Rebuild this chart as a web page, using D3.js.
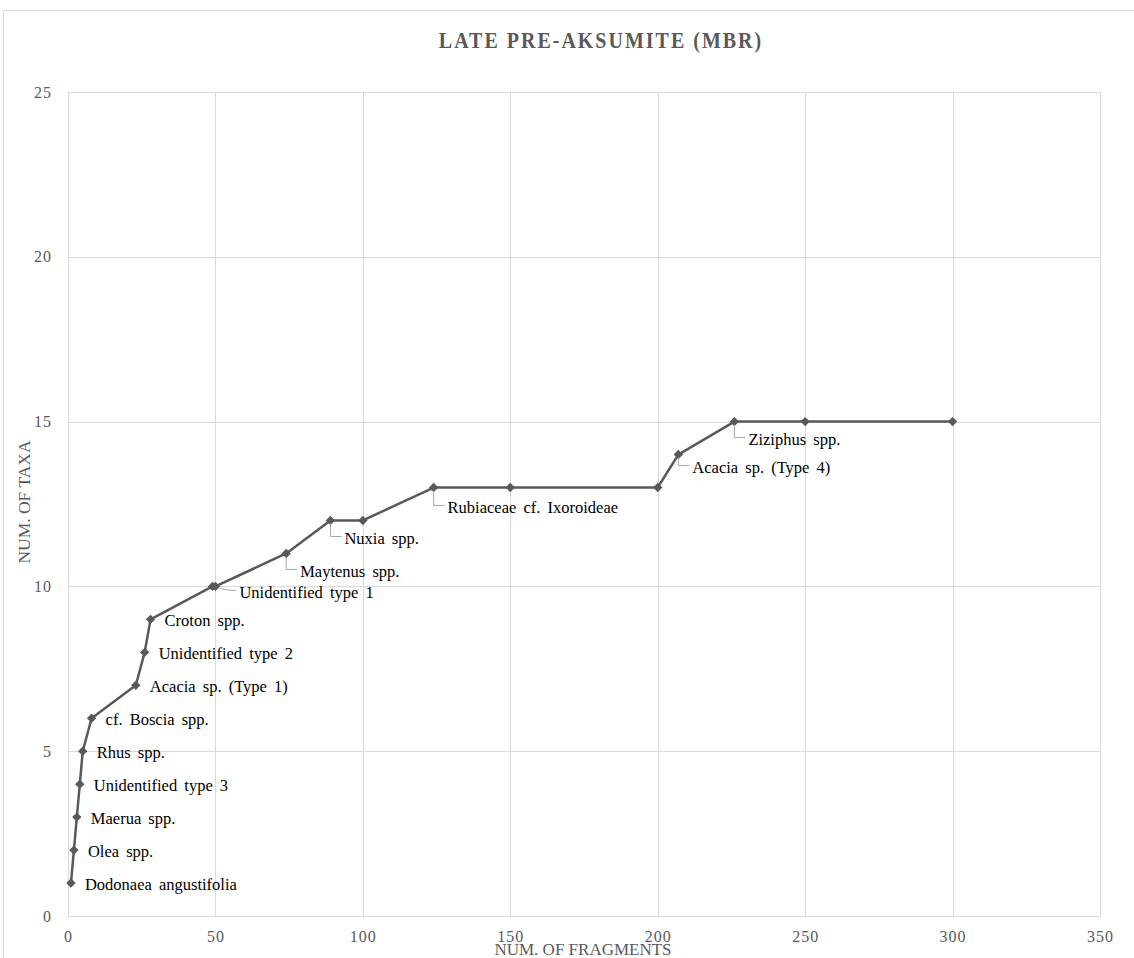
<!DOCTYPE html>
<html>
<head>
<meta charset="utf-8">
<script src="https://cdn.jsdelivr.net/npm/d3@7"></script>
<style>
  body { margin: 0; background: #fff; }
  svg { display: block; }
  svg text { font-family: "Liberation Serif", serif; }
</style>
</head>
<body>
<div id="chart"></div>
<script>
// cumulative taxa vs fragments
const fragments = [1, 2, 3, 4, 5, 8, 23, 26, 28, 49, 50, 74, 89, 100, 124, 150, 200, 207, 226, 250, 300];
const taxa      = [1, 2, 3, 4, 5, 6, 7, 8, 9, 10, 10, 11, 12, 12, 13, 13, 13, 14, 15, 15, 15];
const taxonNames = ["Dodonaea angustifolia", "Olea spp.", "Maerua spp.", "Unidentified type 3", "Rhus spp.",
  "cf. Boscia spp.", "Acacia sp. (Type 1)", "Unidentified type 2", "Croton spp.", "", "Unidentified type 1",
  "Maytenus spp.", "Nuxia spp.", "", "Rubiaceae cf. Ixoroideae", "", "", "Acacia sp. (Type 4)", "Ziziphus spp.", "", ""];
// labels drawn with a leader line (below-right of point)
const leaderLabels = ["Unidentified type 1", "Maytenus spp.", "Nuxia spp.", "Rubiaceae cf. Ixoroideae", "Acacia sp. (Type 4)", "Ziziphus spp."];
const xTicks = [0, 50, 100, 150, 200, 250, 300, 350];
const yTicks = [0, 5, 10, 15, 20, 25];

const width = 1134, height = 958;
const margin = {top: 92, right: 34, bottom: 42, left: 68};
const serif = "Liberation Serif, serif";

const data = fragments.map((f, i) => ({x: f, y: taxa[i], name: taxonNames[i]}));

const svg = d3.select("#chart").append("svg")
    .attr("width", width)
    .attr("height", height);

// outer chart border
svg.append("rect")
    .attr("x", 3.5).attr("y", 10.5)
    .attr("width", width).attr("height", height)
    .attr("fill", "none")
    .attr("stroke", "#d9d9d9");

const x = d3.scaleLinear().domain([0, 350]).range([margin.left, width - margin.right]);
const y = d3.scaleLinear().domain([0, 25]).range([height - margin.bottom, margin.top]);

// gridlines
svg.append("g").selectAll("line")
    .data(yTicks)
    .join("line")
    .attr("x1", x(0)).attr("x2", x(350))
    .attr("y1", d => Math.round(y(d)) + 0.5).attr("y2", d => Math.round(y(d)) + 0.5)
    .attr("stroke", "#d9d9d9");

svg.append("g").selectAll("line")
    .data(xTicks)
    .join("line")
    .attr("y1", y(0)).attr("y2", y(25))
    .attr("x1", d => Math.round(x(d)) + 0.5).attr("x2", d => Math.round(x(d)) + 0.5)
    .attr("stroke", "#d9d9d9");

// axes (labels only)
const xAxis = svg.append("g")
    .attr("transform", `translate(0,${y(0)})`)
    .call(d3.axisBottom(x).tickValues(xTicks).tickSize(0).tickPadding(15));
const yAxis = svg.append("g")
    .attr("transform", `translate(${x(0)},0)`)
    .call(d3.axisLeft(y).tickValues(yTicks).tickSize(0).tickPadding(16));
[xAxis, yAxis].forEach(a => {
    a.attr("font-family", serif).attr("font-size", 16);
    a.select(".domain").remove();
    a.selectAll("text")
        .attr("fill", "#595959")
        .style("letter-spacing", "1px");
});

// line
const line = d3.line().x(d => x(d.x)).y(d => y(d.y));
svg.append("path")
    .datum(data)
    .attr("d", line)
    .attr("fill", "none")
    .attr("stroke", "#595959")
    .attr("stroke-width", 2.5)
    .attr("stroke-linejoin", "round");

// markers
svg.append("g").selectAll("path")
    .data(data)
    .join("path")
    .attr("transform", d => `translate(${x(d.x)},${y(d.y)})`)
    .attr("d", d3.symbol(d3.symbolDiamond2, 56))
    .attr("fill", "#595959");

// data labels
const labelled = data.filter(d => d.name);
const lbl = svg.append("g").attr("font-family", serif).attr("font-size", 16.5);
labelled.forEach(d => {
    const px = x(d.x), py = y(d.y);
    if (leaderLabels.includes(d.name)) {
        const flat = d.name === "Unidentified type 1";
        const drop = flat ? 4 : (d.name === "Rubiaceae cf. Ixoroideae" ? 18 : (d.name === "Acacia sp. (Type 4)" ? 11 : 16));
        const tx = px + (flat ? 24 : 14), ty = py + drop + 2;
        const path = flat
            ? `M${px + 3},${py + 1} Q${px + 8},${py + drop} ${tx - 3},${py + drop}`
            : `M${px},${py + 3} L${px},${py + drop} L${tx - 3},${py + drop}`;
        lbl.append("path")
            .attr("d", path)
            .attr("fill", "none")
            .attr("stroke", "#a6a6a6")
            .attr("stroke-width", 1);
        lbl.append("text")
            .attr("x", tx).attr("y", ty)
            .attr("dy", "0.35em")
            .attr("fill", "#000")
            .style("word-spacing", "3px")
            .text(d.name);
    } else {
        lbl.append("text")
            .attr("x", px + 14).attr("y", py + 1)
            .attr("dy", "0.35em")
            .attr("fill", "#000")
            .style("word-spacing", "3px")
            .text(d.name);
    }
});

// title
svg.append("text")
    .attr("transform", "translate(601,48) scale(1,1.12)")
    .attr("text-anchor", "middle")
    .attr("fill", "#595959")
    .attr("font-family", serif)
    .attr("font-size", 20)
    .attr("font-weight", "bold")
    .style("letter-spacing", "2px")
    .text("LATE PRE-AKSUMITE (MBR)");

// axis titles
svg.append("text")
    .attr("x", 583).attr("y", 955)
    .attr("text-anchor", "middle")
    .attr("fill", "#595959")
    .attr("font-family", serif)
    .attr("font-size", 17)
    .text("NUM. OF FRAGMENTS");

svg.append("text")
    .attr("transform", "translate(30,502) rotate(-90)")
    .attr("text-anchor", "middle")
    .attr("fill", "#595959")
    .attr("font-family", serif)
    .attr("font-size", 17.5)
    .text("NUM. OF TAXA");
</script>
</body>
</html>
